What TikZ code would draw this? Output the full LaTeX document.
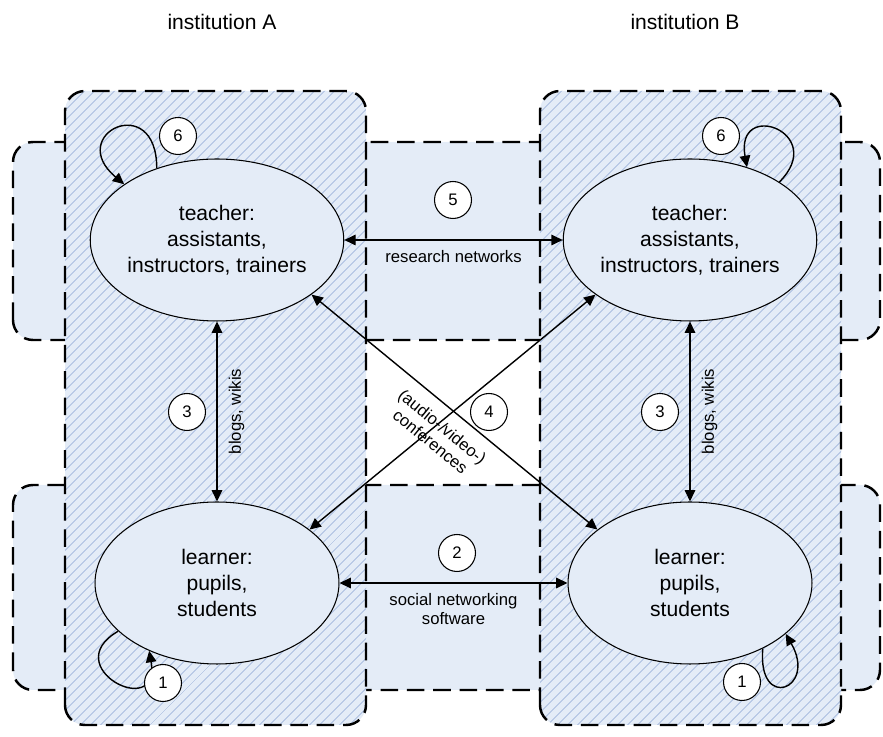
\documentclass[tikz,border=0pt]{standalone}
\usepackage{fontspec}
\setmainfont{Liberation Sans}
\usetikzlibrary{arrows.meta, patterns.meta, shapes.geometric}
\definecolor{bandblue}{RGB}{228,236,247}
\definecolor{hatchblue}{RGB}{186,202,230}

\begin{document}
\begin{tikzpicture}[x = 0.02cm, y = 0.02cm,
	zone/.style = {line width = 1.4pt, dash pattern = on 10pt off 5pt, rounded corners = 0.4cm},
	hatched/.style = {preaction = {fill = bandblue}, pattern = {Lines[angle = 45, distance = 4pt, line width = 0.75pt]}, pattern color = hatchblue},
	actor/.style = {ellipse, draw, line width = 0.6pt, fill = bandblue, minimum width = 4.88cm, minimum height = 3.24cm, inner sep = 0pt, align = center, font = \fontsize{12}{14.8}\selectfont},
	num/.style = {circle, draw, line width = 0.6pt, fill = white, minimum size = 0.74cm, inner sep = 0pt, font = \fontsize{9.5}{11}\selectfont},
	lbl/.style = {align = center, font = \fontsize{9.5}{10.8}\selectfont},
	link/.style = {{Triangle[length = 6.5pt, width = 6pt]}-{Triangle[length = 6.5pt, width = 6pt]}, line width = 0.8pt},
	self/.style = {-{Triangle[length = 6.5pt, width = 6pt]}, line width = 0.8pt}]
					\def\xBL{13};
					\def\xBR{880};

					\def\xAL{65};
					\def\xAR{366};
					\def\xBBL{540};
					\def\xBBR{841};

					\def\yMIN{12};
					\def\yMAX{646};

					\useasboundingbox (0,0) rectangle (883,737);

					\begin{scope}[zone]
						\draw [fill = bandblue] (\xBL,397) rectangle (\xBR,595);
						\draw [fill = bandblue] (\xBL,47) rectangle (\xBR,252);
						\draw [hatched] (\xAL,\yMIN) rectangle (\xAR,\yMAX);
						\draw [hatched] (\xBBL,\yMIN) rectangle (\xBBR,\yMAX);
					\end{scope}

					\node [font = \fontsize{12}{14}\selectfont] (instA) at (222,715) {institution A};
					\node [font = \fontsize{12}{14}\selectfont] (instB) at (685,715) {institution B};

					\node [actor] (tA) at (217,497) {teacher:\\assistants,\\instructors, trainers};
					\node [actor] (tB) at (690,497) {teacher:\\assistants,\\instructors, trainers};
					\node [actor] (lA) at (217,154) {learner:\\pupils,\\students};
					\node [actor] (lB) at (690,154) {learner:\\pupils,\\students};

					\draw [link] (tA.east) -- (tB.west) node [midway, below = 2pt, lbl] (resnet) {research networks};
					\draw [link] (lA.east) -- (lB.west) node [midway, below = 2pt, lbl] (socnet) {social networking\\software};
					\draw [link] (lA.north) -- (tA.south) node [midway, sloped, below = 3pt, lbl] (blogA) {blogs, wikis};
					\draw [link] (lB.north) -- (tB.south) node [midway, sloped, below = 3pt, lbl] (blogB) {blogs, wikis};
					\draw [link] (tA.-30) -- (lB.150) node [midway, sloped, below = 3.5pt, lbl] (conf) {(audio-/video-)\\conferences};
					\draw [link] (lA.30) -- (tB.210);

					\draw [self] (tA.130) to [out = 90, in = 140, looseness = 5.5] (tA.149);
					\draw [self] (tB.33) to [out = 45, in = 100, looseness = 5] (tB.52);
					\draw [self] (lA.206) to [out = 210, in = -80, looseness = 5] (lA.225);
					\draw [self] (lB.-42) to [out = 265, in = -60, looseness = 6] (lB.-28);

					\node [num] (n1A) at (163,54) {1};
					\node [num] (n1B) at (742,55) {1};
					\node [num] (n2) at (457,184) {2};
					\node [num] (n3A) at (187,325) {3};
					\node [num] (n3B) at (660,325) {3};
					\node [num] (n4) at (489,325) {4};
					\node [num] (n5) at (453,537) {5};
					\node [num] (n6A) at (178,601) {6};
					\node [num] (n6B) at (721,601) {6};
				\end{tikzpicture}
\end{document}
